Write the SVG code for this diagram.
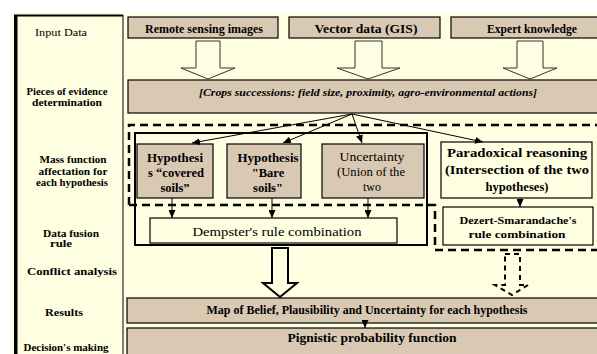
<svg xmlns="http://www.w3.org/2000/svg" width="597" height="354" viewBox="0 0 597 354">
<defs>
<style>
text{font-family:"Liberation Serif","Times New Roman",serif;fill:#000;}
.lab{font-size:10px;font-weight:bold;text-anchor:middle;}
.box{fill:#D9C9B3;stroke:#000;stroke-width:1.2;}
.wbox{fill:#FEFEE0;stroke:#000;stroke-width:1.2;}
.c{text-anchor:middle;}
.b{font-weight:bold;}
.hol{fill:#FEFEE0;stroke:#333;stroke-width:1;}
.conn{stroke:#000;stroke-width:1;fill:none;}
</style>
<marker id="ah" markerUnits="userSpaceOnUse" markerWidth="8" markerHeight="7" refX="8" refY="3.5" orient="auto">
<path d="M0,0 L8,3.5 L0,7 z" fill="#000"/>
</marker>
</defs>
<rect x="0" y="0" width="597" height="354" fill="#fff"/>
<rect x="10" y="13" width="587" height="341" fill="#FEFEE0"/>
<g id="frame">
<rect x="14" y="15" width="3.5" height="339" fill="#000"/>
<line x1="14" y1="15.5" x2="123" y2="15.5" stroke="#000" stroke-width="2"/>
<line x1="123" y1="15" x2="123" y2="354" stroke="#000" stroke-width="1"/>
</g>
<g id="labels">
<text class="lab" x="61" y="36" style="font-weight:normal" textLength="52" lengthAdjust="spacingAndGlyphs">Input Data</text>
<text class="lab" x="67" y="95" textLength="81" lengthAdjust="spacingAndGlyphs">Pieces of evidence</text>
<text class="lab" x="67" y="106" textLength="70" lengthAdjust="spacingAndGlyphs">determination</text>
<text class="lab" x="73" y="163" textLength="67" lengthAdjust="spacingAndGlyphs">Mass function</text>
<text class="lab" x="73" y="175" textLength="69" lengthAdjust="spacingAndGlyphs">affectation for</text>
<text class="lab" x="72" y="186" textLength="72" lengthAdjust="spacingAndGlyphs">each hypothesis</text>
<text class="lab" x="71" y="237" textLength="56" lengthAdjust="spacingAndGlyphs">Data fusion</text>
<text class="lab" x="61" y="247" textLength="22" lengthAdjust="spacingAndGlyphs">rule</text>
<text class="lab" x="72" y="275" textLength="90" lengthAdjust="spacingAndGlyphs">Conflict analysis</text>
<text class="lab" x="64" y="316" textLength="38" lengthAdjust="spacingAndGlyphs">Results</text>
<text class="lab" x="66" y="351" textLength="85" lengthAdjust="spacingAndGlyphs">Decision's making</text>
</g>
<g id="remote">
<rect class="box" x="128" y="17" width="150" height="21"/>
<text class="c b" x="204" y="33" font-size="12" textLength="118" lengthAdjust="spacingAndGlyphs">Remote sensing images</text>
</g>
<g id="vector">
<rect class="box" x="289" y="17" width="151" height="21"/>
<text class="c b" x="366" y="33" font-size="12" textLength="103" lengthAdjust="spacingAndGlyphs">Vector data (GIS)</text>
</g>
<g id="expert">
<rect class="box" x="451" y="17" width="150" height="21"/>
<text class="c b" x="532" y="33" font-size="12" textLength="90" lengthAdjust="spacingAndGlyphs">Expert knowledge</text>
</g>
<g id="evidence">
<rect class="box" x="128" y="80" width="470" height="33"/>
<text class="c b" x="368" y="96" font-size="11" font-style="italic" textLength="338" lengthAdjust="spacingAndGlyphs">[Crops successions: field size, proximity, agro-environmental actions]</text>
</g>
<g id="groups">
<path d="M129,205 L129,125 L597,125 M129,205 L435,205 L435,250 L597,250" fill="none" stroke="#000" stroke-width="2.5" stroke-dasharray="8,5"/>
<rect x="135" y="133" width="292" height="112" fill="none" stroke="#000" stroke-width="2"/>
</g>
<g id="h1">
<rect class="box" x="137" y="144" width="76" height="54"/>
<text class="c b" x="175" y="162" font-size="12.5" textLength="56" lengthAdjust="spacingAndGlyphs">Hypothesi</text>
<text class="c b" x="176" y="177" font-size="12.5" textLength="56" lengthAdjust="spacingAndGlyphs">s “covered</text>
<text class="c b" x="175" y="192" font-size="12.5">soils”</text>
</g>
<g id="h2">
<rect class="box" x="227" y="144" width="74" height="54"/>
<text class="c b" x="268" y="162" font-size="12.5" textLength="61" lengthAdjust="spacingAndGlyphs">Hypothesis</text>
<text class="c b" x="268" y="177" font-size="12.5">"Bare</text>
<text class="c b" x="268" y="192" font-size="12.5">soils"</text>
</g>
<g id="h3">
<rect class="box" x="322" y="144" width="102" height="54"/>
<text class="c" x="372" y="161" font-size="12" textLength="65" lengthAdjust="spacingAndGlyphs">Uncertainty</text>
<text class="c" x="371" y="176" font-size="12" textLength="68" lengthAdjust="spacingAndGlyphs">(Union of the</text>
<text class="c" x="372" y="191" font-size="12">two</text>
</g>
<g id="paradox">
<rect class="wbox" x="441" y="142" width="151" height="56"/>
<text class="c b" x="517" y="157" font-size="12.5" textLength="140" lengthAdjust="spacingAndGlyphs">Paradoxical reasoning</text>
<text class="c b" x="517" y="174" font-size="12" textLength="144" lengthAdjust="spacingAndGlyphs">(Intersection of the two</text>
<text class="c b" x="517" y="191" font-size="12.5" textLength="63" lengthAdjust="spacingAndGlyphs">hypotheses)</text>
</g>
<g id="dempster">
<rect class="wbox" x="150" y="218" width="247" height="25" stroke-width="1.5"/>
<text class="c" x="277" y="236" font-size="12.5" textLength="169" lengthAdjust="spacingAndGlyphs">Dempster's rule combination</text>
</g>
<g id="dsm">
<rect class="wbox" x="443" y="207" width="150" height="38"/>
<text class="c b" x="518" y="224" font-size="11" textLength="117" lengthAdjust="spacingAndGlyphs">Dezert-Smarandache's</text>
<text class="c b" x="517" y="238" font-size="11" textLength="97" lengthAdjust="spacingAndGlyphs">rule combination</text>
</g>
<g id="map">
<rect class="box" x="127" y="298" width="472" height="25" stroke-width="2"/>
<text class="c b" x="367" y="314" font-size="11.5" textLength="321" lengthAdjust="spacingAndGlyphs">Map of Belief, Plausibility and Uncertainty for each hypothesis</text>
</g>
<g id="pignistic">
<rect class="box" x="127" y="328" width="472" height="30" stroke-width="2"/>
<text class="c b" x="372" y="342" font-size="12" textLength="169" lengthAdjust="spacingAndGlyphs">Pignistic probability function</text>
</g>
<g id="connectors">
<polygon class="hol" points="196,41 220,41 220,68 235,68 208,79 181,68 196,68"/>
<polygon class="hol" points="355,41 382,41 382,68 400,68 368,79 337,68 355,68"/>
<polygon class="hol" points="517,41 543,41 543,68 557,68 530,79 503,68 517,68"/>
<line class="conn" x1="352" y1="114" x2="192" y2="143" marker-end="url(#ah)"/>
<line class="conn" x1="352" y1="114" x2="283" y2="143" marker-end="url(#ah)"/>
<line class="conn" x1="352" y1="114" x2="362" y2="143" marker-end="url(#ah)"/>
<line class="conn" x1="352" y1="114" x2="483" y2="142" marker-end="url(#ah)"/>
<line class="conn" x1="172" y1="198" x2="172" y2="218" marker-end="url(#ah)"/>
<line class="conn" x1="272" y1="198" x2="272" y2="218" marker-end="url(#ah)"/>
<line class="conn" x1="368" y1="198" x2="368" y2="218" marker-end="url(#ah)"/>
<line class="conn" x1="520" y1="198" x2="520" y2="207" marker-end="url(#ah)"/>
<polygon points="272,248 288,248 288,283 297,283 280,297 263,283 272,283" fill="#FEFEE0" stroke="#000" stroke-width="2"/>
<polygon points="505,254 520,254 520,285 528,285 512,295 495,285 505,285" fill="#FEFEE0" stroke="#000" stroke-width="2" stroke-dasharray="5,4"/>
<line class="conn" x1="365" y1="320" x2="365" y2="328" marker-end="url(#ah)"/>
</g>
</svg>
